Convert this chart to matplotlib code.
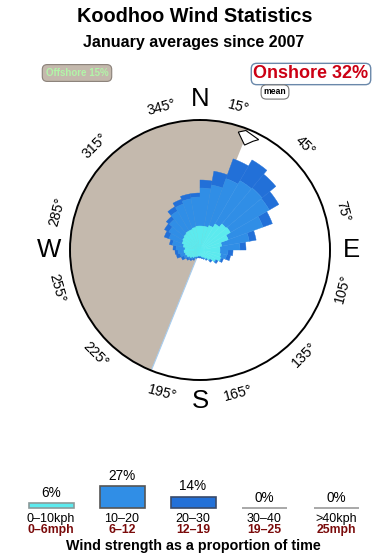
import numpy as np
import matplotlib
matplotlib.use("Agg")
import matplotlib.pyplot as plt

plt.rcParams['font.family'] = ['Liberation Sans', 'DejaVu Sans']

# wind rose, 36 sectors of 10 degrees (radius units: circle edge = 130)
sector_deg = np.arange(5, 360, 10)
speed_0_10 = [24, 24, 26, 30, 34, 35, 30, 22, 20, 20, 21, 22, 18, 13, 10, 8, 7, 6,
              6, 6, 7, 8, 10, 12, 14, 15, 16, 15, 17, 19, 20, 21, 22, 22, 23, 24]
speed_10_20 = [38, 42, 50, 50, 47, 45, 37, 28, 20, 8, 6, 1, 1, 1, 1, 1, 1, 1,
               1, 1, 1, 2, 2, 2, 3, 5, 6, 9, 11, 14, 16, 19, 23, 27, 29, 29]
speed_20_30 = [8, 14, 21, 24, 18, 11, 10, 7, 6, 5, 4, 2, 2, 2, 1, 1, 1, 1,
               1, 1, 1, 2, 2, 2, 3, 4, 3, 3, 3, 5, 5, 4, 5, 5, 5, 4]
rose_max = 130

offshore_from, offshore_to = 202, 22   # clockwise, through west
mean_dir = 23

tick_deg = [15, 45, 75, 105, 135, 165, 195, 225, 255, 285, 315, 345]
compass = {'N': 0, 'E': 90, 'S': 180, 'W': 270}

# legend
band_pct = [6, 27, 14, 0, 0]
band_kph = ['0\u201310kph', '10\u201320', '20\u201330', '30\u201340', '>40kph']
band_mph = ['0\u20136mph', '6\u201312', '12\u201319', '19\u201325', '25mph']
band_col = ['#5ceaee', '#308ee6', '#2270d8', 'white', 'white']
band_edge = ['#8a9a9a', '#555555', '#3a4a6a', '#999999', '#999999']

offshore_pct = 15
onshore_pct = 32

W, H = 390, 560
fig = plt.figure(figsize=(3.9, 5.6), dpi=100)


def fx(x):
    return x / W


def fy(y):
    return 1 - y / H


fig.text(fx(195), fy(17), 'Koodhoo Wind Statistics', ha='center', va='center',
         fontsize=14.3, fontweight='bold')
fig.text(fx(194), fy(42), 'January averages since 2007', ha='center', va='center',
         fontsize=11.5, fontweight='bold')

# ---- rose ----
cx, cy, R = 200, 250, 130
ax = fig.add_axes([fx(cx - R), fy(cy + R), 2 * R / W, 2 * R / H], projection='polar')
ax.set_theta_zero_location('N')
ax.set_theta_direction(-1)
ax.set_ylim(0, rose_max)
ax.grid(False)
ax.set_yticks([])
ax.set_xticks(np.radians(tick_deg))
ax.set_xticklabels([])
ax.tick_params(axis='x', direction='out', length=5, width=1, color='black')
ax.spines['polar'].set_linewidth(1.4)

span = (offshore_to - offshore_from) % 360
ax.bar(np.radians(offshore_from + span / 2), rose_max, width=np.radians(span),
       bottom=0, color='#c4b9ad', linewidth=0, zorder=1)
ax.plot([np.radians(offshore_from)] * 2, [0, rose_max], color='#a8cdef', lw=0.8, zorder=1.5)

th = np.radians(sector_deg)
wd = np.radians(10)
b1 = np.array(speed_0_10)
b2 = b1 + np.array(speed_10_20)
ax.bar(th, speed_0_10, width=wd, bottom=0, color='#5ceaee', edgecolor='#5ceaee', lw=0.3, zorder=4)
ax.bar(th, speed_10_20, width=wd, bottom=b1, color='#308ee6', edgecolor='#308ee6', lw=0.3, zorder=3)
ax.bar(th, speed_20_30, width=wd, bottom=b2, color='#2270d8', edgecolor='#2270d8', lw=0.3, zorder=2)

# mean direction marker at the rim
mk_t = np.radians([mean_dir - 5, mean_dir - 2, mean_dir + 5, mean_dir + 3, mean_dir])
mk_r = [124, 128, 125, 121, 114]
ax.fill(mk_t, mk_r, facecolor='white', edgecolor='black', lw=0.8, zorder=5)

for t in tick_deg:
    rot = -t if (t < 90 or t > 270) else 180 - t
    ax.text(np.radians(t), 148, f'{t}\u00b0', ha='center', va='center', rotation=rot,
            rotation_mode='anchor', fontsize=10.2, clip_on=False)
for k, t in compass.items():
    ax.text(np.radians(t), 151, k, ha='center', va='center', fontsize=18.5, clip_on=False)

# ---- offshore / onshore boxes ----
fig.text(fx(77), fy(73), f'Offshore {offshore_pct}%', ha='center', va='center',
         fontsize=7, fontweight='bold', color='#b2f5a8',
         bbox=dict(boxstyle='round,pad=0.35,rounding_size=0.5', fc='#c4b9ad', ec='#8a8078', lw=0.8))
fig.text(fx(311), fy(74), f'Onshore {onshore_pct}%', ha='center', va='center',
         fontsize=13, fontweight='bold', color='#cc0014',
         bbox=dict(boxstyle='round,pad=0.12,rounding_size=0.3', fc='white', ec='#6a88aa', lw=1))
fig.text(fx(275), fy(92), 'mean', ha='center', va='center', fontsize=6.2, fontweight='bold',
         bbox=dict(boxstyle='round,pad=0.3,rounding_size=0.6', fc='white', ec='#777777', lw=0.8))

# ---- speed legend ----
bx = [51, 122, 193, 264, 336]
ax2 = fig.add_axes([0, fy(508), 1, 38 / H])
ax2.set_xlim(0, W)
ax2.set_ylim(0, 38 / 0.8)
ax2.axis('off')
ax2.bar(bx, band_pct, width=45, color=band_col, edgecolor=band_edge, lw=1.2, clip_on=False)
for x, p in zip(bx, band_pct):
    ax2.annotate(f'{p}%', (x, p), xytext=(0, 2.5), textcoords='offset points',
                 ha='center', va='bottom', fontsize=9.8)
for x, k, m in zip(bx, band_kph, band_mph):
    fig.text(fx(x), fy(519), k, ha='center', va='center', fontsize=9)
    fig.text(fx(x), fy(530), m, ha='center', va='center', fontsize=8.8,
             fontweight='bold', color='#7a0a0a')
fig.text(fx(193), fy(546), 'Wind strength as a proportion of time', ha='center', va='center',
         fontsize=10.3, fontweight='bold')

fig.savefig('out.png', dpi=100)
